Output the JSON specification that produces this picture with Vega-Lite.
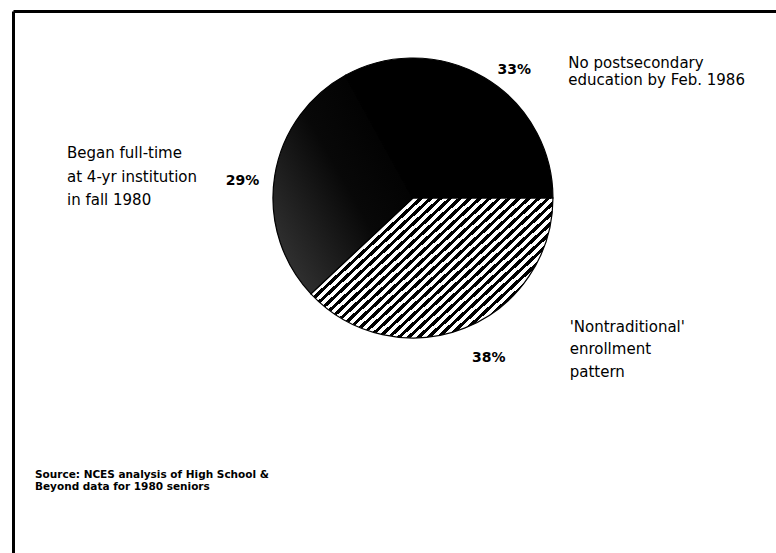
{
  "$schema": "https://vega.github.io/schema/vega-lite/v6.json",
  "width": 776,
  "height": 553,
  "autosize": {"type": "fit", "contains": "padding"},
  "padding": {"left": 13, "top": 11, "right": 0, "bottom": 0},
  "background": "white",
  "config": {
    "text": {"font": "DejaVu Sans", "color": "#000", "lineBreak": "\n"},
    "axis": {"domainColor": "#000", "domainWidth": 3, "ticks": false, "labels": false, "grid": false, "title": null}
  },
  "title": {
    "text": ["Source: NCES analysis of High School &", "Beyond data for 1980 seniors"],
    "orient": "bottom",
    "anchor": "start",
    "font": "DejaVu Sans",
    "fontSize": 10.5,
    "fontWeight": "bold",
    "lineHeight": 12,
    "offset": -75,
    "dx": 22,
    "baseline": "alphabetic",
    "color": "#000"
  },
  "data": {
    "values": [
      {"key": "nontrad", "pct": 38, "label": "38%", "desc": "'Nontraditional'\nenrollment\npattern"},
      {"key": "began", "pct": 29, "label": "29%", "desc": "Began full-time\nat 4-yr institution\nin fall 1980"},
      {"key": "nopost", "pct": 33, "label": "33%", "desc": "No postsecondary\neducation by Feb. 1986"}
    ]
  },
  "transform": [
    {"stack": "pct", "groupby": [], "as": ["p0", "p1"]},
    {"calculate": "(datum.p0 + datum.p1) / 2", "as": "mid"}
  ],
  "layer": [
    {
      "mark": {"type": "rule", "opacity": 0},
      "encoding": {
        "x": {"datum": 0, "type": "quantitative", "scale": {"domain": [0, 1]}, "axis": {"orient": "top"}},
        "y": {"datum": 0, "type": "quantitative", "scale": {"domain": [0, 1]}, "axis": {"orient": "left"}}
      }
    },
    {
      "transform": [{"filter": {"field": "key", "equal": "nontrad"}}],
      "mark": {
        "type": "arc", "radius": 140,
        "x": {"expr": "width * 0.5242"}, "y": {"expr": "height * 0.345"},
        "stroke": "#000", "strokeWidth": 1.2,
        "fill": {
          "gradient": "linear", "x1": 0, "y1": 0, "x2": 1.169, "y2": 0.727,
          "stops": [
            {"offset": 0.000, "color": "#000"}, {"offset": 0.012, "color": "#000"}, {"offset": 0.012, "color": "#fff"}, {"offset": 0.025, "color": "#fff"},
            {"offset": 0.025, "color": "#000"}, {"offset": 0.037, "color": "#000"}, {"offset": 0.037, "color": "#fff"}, {"offset": 0.050, "color": "#fff"},
            {"offset": 0.050, "color": "#000"}, {"offset": 0.062, "color": "#000"}, {"offset": 0.062, "color": "#fff"}, {"offset": 0.075, "color": "#fff"},
            {"offset": 0.075, "color": "#000"}, {"offset": 0.087, "color": "#000"}, {"offset": 0.087, "color": "#fff"}, {"offset": 0.100, "color": "#fff"},
            {"offset": 0.100, "color": "#000"}, {"offset": 0.112, "color": "#000"}, {"offset": 0.112, "color": "#fff"}, {"offset": 0.125, "color": "#fff"},
            {"offset": 0.125, "color": "#000"}, {"offset": 0.137, "color": "#000"}, {"offset": 0.137, "color": "#fff"}, {"offset": 0.150, "color": "#fff"},
            {"offset": 0.150, "color": "#000"}, {"offset": 0.162, "color": "#000"}, {"offset": 0.162, "color": "#fff"}, {"offset": 0.175, "color": "#fff"},
            {"offset": 0.175, "color": "#000"}, {"offset": 0.187, "color": "#000"}, {"offset": 0.187, "color": "#fff"}, {"offset": 0.200, "color": "#fff"},
            {"offset": 0.200, "color": "#000"}, {"offset": 0.212, "color": "#000"}, {"offset": 0.212, "color": "#fff"}, {"offset": 0.225, "color": "#fff"},
            {"offset": 0.225, "color": "#000"}, {"offset": 0.237, "color": "#000"}, {"offset": 0.237, "color": "#fff"}, {"offset": 0.250, "color": "#fff"},
            {"offset": 0.250, "color": "#000"}, {"offset": 0.262, "color": "#000"}, {"offset": 0.262, "color": "#fff"}, {"offset": 0.275, "color": "#fff"},
            {"offset": 0.275, "color": "#000"}, {"offset": 0.287, "color": "#000"}, {"offset": 0.287, "color": "#fff"}, {"offset": 0.300, "color": "#fff"},
            {"offset": 0.300, "color": "#000"}, {"offset": 0.312, "color": "#000"}, {"offset": 0.312, "color": "#fff"}, {"offset": 0.325, "color": "#fff"},
            {"offset": 0.325, "color": "#000"}, {"offset": 0.337, "color": "#000"}, {"offset": 0.337, "color": "#fff"}, {"offset": 0.350, "color": "#fff"},
            {"offset": 0.350, "color": "#000"}, {"offset": 0.362, "color": "#000"}, {"offset": 0.362, "color": "#fff"}, {"offset": 0.375, "color": "#fff"},
            {"offset": 0.375, "color": "#000"}, {"offset": 0.387, "color": "#000"}, {"offset": 0.387, "color": "#fff"}, {"offset": 0.400, "color": "#fff"},
            {"offset": 0.400, "color": "#000"}, {"offset": 0.412, "color": "#000"}, {"offset": 0.412, "color": "#fff"}, {"offset": 0.425, "color": "#fff"},
            {"offset": 0.425, "color": "#000"}, {"offset": 0.437, "color": "#000"}, {"offset": 0.437, "color": "#fff"}, {"offset": 0.450, "color": "#fff"},
            {"offset": 0.450, "color": "#000"}, {"offset": 0.462, "color": "#000"}, {"offset": 0.462, "color": "#fff"}, {"offset": 0.475, "color": "#fff"},
            {"offset": 0.475, "color": "#000"}, {"offset": 0.487, "color": "#000"}, {"offset": 0.487, "color": "#fff"}, {"offset": 0.500, "color": "#fff"},
            {"offset": 0.500, "color": "#000"}, {"offset": 0.512, "color": "#000"}, {"offset": 0.512, "color": "#fff"}, {"offset": 0.525, "color": "#fff"},
            {"offset": 0.525, "color": "#000"}, {"offset": 0.537, "color": "#000"}, {"offset": 0.537, "color": "#fff"}, {"offset": 0.550, "color": "#fff"},
            {"offset": 0.550, "color": "#000"}, {"offset": 0.562, "color": "#000"}, {"offset": 0.562, "color": "#fff"}, {"offset": 0.575, "color": "#fff"},
            {"offset": 0.575, "color": "#000"}, {"offset": 0.587, "color": "#000"}, {"offset": 0.587, "color": "#fff"}, {"offset": 0.600, "color": "#fff"},
            {"offset": 0.600, "color": "#000"}, {"offset": 0.612, "color": "#000"}, {"offset": 0.612, "color": "#fff"}, {"offset": 0.625, "color": "#fff"},
            {"offset": 0.625, "color": "#000"}, {"offset": 0.637, "color": "#000"}, {"offset": 0.637, "color": "#fff"}, {"offset": 0.650, "color": "#fff"},
            {"offset": 0.650, "color": "#000"}, {"offset": 0.662, "color": "#000"}, {"offset": 0.662, "color": "#fff"}, {"offset": 0.675, "color": "#fff"},
            {"offset": 0.675, "color": "#000"}, {"offset": 0.687, "color": "#000"}, {"offset": 0.687, "color": "#fff"}, {"offset": 0.700, "color": "#fff"},
            {"offset": 0.700, "color": "#000"}, {"offset": 0.712, "color": "#000"}, {"offset": 0.712, "color": "#fff"}, {"offset": 0.725, "color": "#fff"},
            {"offset": 0.725, "color": "#000"}, {"offset": 0.737, "color": "#000"}, {"offset": 0.737, "color": "#fff"}, {"offset": 0.750, "color": "#fff"},
            {"offset": 0.750, "color": "#000"}, {"offset": 0.762, "color": "#000"}, {"offset": 0.762, "color": "#fff"}, {"offset": 0.775, "color": "#fff"},
            {"offset": 0.775, "color": "#000"}, {"offset": 0.787, "color": "#000"}, {"offset": 0.787, "color": "#fff"}, {"offset": 0.800, "color": "#fff"},
            {"offset": 0.800, "color": "#000"}, {"offset": 0.812, "color": "#000"}, {"offset": 0.812, "color": "#fff"}, {"offset": 0.825, "color": "#fff"},
            {"offset": 0.825, "color": "#000"}, {"offset": 0.837, "color": "#000"}, {"offset": 0.837, "color": "#fff"}, {"offset": 0.850, "color": "#fff"},
            {"offset": 0.850, "color": "#000"}, {"offset": 0.862, "color": "#000"}, {"offset": 0.862, "color": "#fff"}, {"offset": 0.875, "color": "#fff"},
            {"offset": 0.875, "color": "#000"}, {"offset": 0.887, "color": "#000"}, {"offset": 0.887, "color": "#fff"}, {"offset": 0.900, "color": "#fff"},
            {"offset": 0.900, "color": "#000"}, {"offset": 0.912, "color": "#000"}, {"offset": 0.912, "color": "#fff"}, {"offset": 0.925, "color": "#fff"},
            {"offset": 0.925, "color": "#000"}, {"offset": 0.937, "color": "#000"}, {"offset": 0.937, "color": "#fff"}, {"offset": 0.950, "color": "#fff"},
            {"offset": 0.950, "color": "#000"}, {"offset": 0.962, "color": "#000"}, {"offset": 0.962, "color": "#fff"}, {"offset": 0.975, "color": "#fff"},
            {"offset": 0.975, "color": "#000"}, {"offset": 0.987, "color": "#000"}, {"offset": 0.987, "color": "#fff"}, {"offset": 1.000, "color": "#fff"}
          ]
        }
      },
      "encoding": {
        "theta": {"field": "p0", "type": "quantitative", "stack": null, "scale": {"domain": [0, 100], "range": [1.5708, 7.854]}},
        "theta2": {"field": "p1"}
      }
    },
    {
      "transform": [{"filter": {"field": "key", "equal": "began"}}],
      "mark": {
        "type": "arc", "radius": 140,
        "x": {"expr": "width * 0.5242"}, "y": {"expr": "height * 0.345"},
        "stroke": "#000", "strokeWidth": 1.2,
        "fill": {
          "gradient": "linear", "x1": 0, "y1": 1, "x2": 0.9, "y2": 0.2,
          "stops": [
            {"offset": 0, "color": "#3c3c3c"},
            {"offset": 0.3, "color": "#222"},
            {"offset": 0.6, "color": "#080808"},
            {"offset": 1, "color": "#000"}
          ]
        }
      },
      "encoding": {
        "theta": {"field": "p0", "type": "quantitative", "stack": null},
        "theta2": {"field": "p1"}
      }
    },
    {
      "transform": [{"filter": {"field": "key", "equal": "nopost"}}],
      "mark": {
        "type": "arc", "radius": 140,
        "x": {"expr": "width * 0.5242"}, "y": {"expr": "height * 0.345"},
        "stroke": "#000", "strokeWidth": 1.2, "fill": "#000"
      },
      "encoding": {
        "theta": {"field": "p0", "type": "quantitative", "stack": null},
        "theta2": {"field": "p1"}
      }
    },
    {
      "transform": [{"filter": {"field": "key", "equal": "nopost"}}],
      "mark": {"type": "text", "radius": 150, "x": {"expr": "width * 0.5242"}, "y": {"expr": "height * 0.345"}, "dx": 25, "dy": 1, "align": "center", "baseline": "middle", "fontSize": 14, "fontWeight": "bold"},
      "encoding": {"theta": {"field": "mid", "type": "quantitative", "stack": null}, "text": {"field": "label"}}
    },
    {
      "transform": [{"filter": {"field": "key", "equal": "nontrad"}}],
      "mark": {"type": "text", "radius": 165, "x": {"expr": "width * 0.5242"}, "y": {"expr": "height * 0.345"}, "dx": 15, "dy": 7, "align": "center", "baseline": "middle", "fontSize": 14, "fontWeight": "bold"},
      "encoding": {"theta": {"field": "mid", "type": "quantitative", "stack": null}, "text": {"field": "label"}}
    },
    {
      "transform": [{"filter": {"field": "key", "equal": "began"}}],
      "mark": {"type": "text", "radius": 165, "x": {"expr": "width * 0.5242"}, "y": {"expr": "height * 0.345"}, "dx": -7.5, "dy": 9, "align": "center", "baseline": "middle", "fontSize": 14, "fontWeight": "bold"},
      "encoding": {"theta": {"field": "mid", "type": "quantitative", "stack": null}, "text": {"field": "label"}}
    },
    {
      "transform": [{"filter": {"field": "key", "equal": "nopost"}}],
      "mark": {"type": "text", "radius": 150, "x": {"expr": "width * 0.5242"}, "y": {"expr": "height * 0.345"}, "dx": 79, "dy": -1, "align": "left", "baseline": "alphabetic", "fontSize": 15, "lineHeight": 17},
      "encoding": {"theta": {"field": "mid", "type": "quantitative", "stack": null}, "text": {"field": "desc"}}
    },
    {
      "transform": [{"filter": {"field": "key", "equal": "nontrad"}}],
      "mark": {"type": "text", "radius": 165, "x": {"expr": "width * 0.5242"}, "y": {"expr": "height * 0.345"}, "dx": 96, "dy": -19.5, "align": "left", "baseline": "alphabetic", "fontSize": 15, "lineHeight": 22.5},
      "encoding": {"theta": {"field": "mid", "type": "quantitative", "stack": null}, "text": {"field": "desc"}}
    },
    {
      "transform": [{"filter": {"field": "key", "equal": "began"}}],
      "mark": {"type": "text", "radius": 165, "x": {"expr": "width * 0.5242"}, "y": {"expr": "height * 0.345"}, "dx": -183, "dy": -14, "align": "left", "baseline": "alphabetic", "fontSize": 15, "lineHeight": 23.5},
      "encoding": {"theta": {"field": "mid", "type": "quantitative", "stack": null}, "text": {"field": "desc"}}
    }
  ]
}
